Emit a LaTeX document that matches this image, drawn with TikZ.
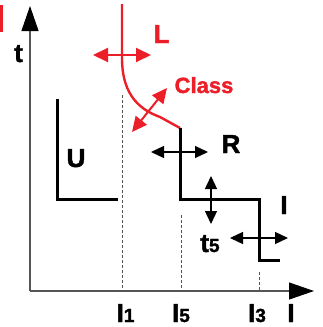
\documentclass[tikz,border=0pt]{standalone}
\usepackage{fontspec}
\setmainfont{Liberation Sans}[BoldFeatures={FakeBold=1.6}]
\usetikzlibrary{arrows.meta,positioning}
\definecolor{curvered}{RGB}{236,30,40}
\definecolor{axisgray}{RGB}{85,85,85}
\newcommand\smalldigit[1]{{\fontsize{19}{20}\selectfont #1}}

\begin{document}
\begin{tikzpicture}[x=1pt,y=-1pt,
    lbl/.style={font=\bfseries\fontsize{26}{30}\selectfont,inner sep=0pt,anchor=base},
    axis/.style={draw=axisgray,line width=1.1pt,-{Triangle[length=25pt,width=17pt,color=black]}},
    guide/.style={draw=axisgray,line width=0.8pt,dash pattern=on 3pt off 2pt},
    trip/.style={draw=black,line width=3pt,line join=miter},
    shiftarrow/.style={draw=black,line width=1.3pt,{Triangle[length=13pt,width=12pt]}-{Triangle[length=13pt,width=12pt]}},
    redshift/.style={draw=curvered,line width=2pt,{Triangle[length=15pt,width=14pt]}-{Triangle[length=15pt,width=14pt]}}]
  \useasboundingbox (0,0) rectangle (323,327);
  \fill[curvered] (0,5) rectangle (3,32);
  % axes
  \coordinate (O) at (30,291);
  \coordinate (tend) at (30,6);
  \coordinate (Iend) at (314,291);
  \draw[axis] (O) -- (tend);
  \draw[axis] (O) -- (Iend);
  % guide lines
  \coordinate (g1) at (122,95);   \coordinate (g1b) at (122,291);
  \coordinate (g5) at (181,215);  \coordinate (g5b) at (181,291);
  \coordinate (g3) at (259,272);  \coordinate (g3b) at (259,291);
  \draw[guide] (g1) -- (g1b);
  \draw[guide] (g5) -- (g5b);
  \draw[guide] (g3) -- (g3b);
  % U release
  \coordinate (u1) at (57,99);
  \coordinate (u2) at (57,199);
  \coordinate (u3) at (118,199);
  \draw[trip] (u1) -- (u2) -- (u3);
  % L curve
  \coordinate (c0) at (122,4);
  \coordinate (c1) at (122,58);
  \coordinate (c2) at (160,117);
  \coordinate (r0) at (180,128);
  \draw[curvered,line width=2.4pt] (c0) -- (c1) .. controls (122,90) and (135,108) .. (c2) -- (r0);
  % R and I steps
  \coordinate (r1) at (180,199);
  \coordinate (r2) at (259,199);
  \coordinate (r3) at (259,260);
  \coordinate (r4) at (280,260);
  \draw[trip] (r0) -- (r1) -- (r2) -- (r3) -- (r4);
  % shift arrows
  \begin{scope}
    \coordinate (La) at (93,55);   \coordinate (Lb) at (151,55);
    \coordinate (Ka) at (132,132); \coordinate (Kb) at (167,88);
    \coordinate (Ra) at (151,152); \coordinate (Rb) at (208,152);
    \coordinate (Ta) at (211,176); \coordinate (Tb) at (211,224);
    \coordinate (Ia) at (230,238); \coordinate (Ib) at (288,238);
    \draw[redshift] (La) -- (Lb);
    \draw[redshift] (Ka) -- (Kb);
    \draw[shiftarrow] (Ra) -- (Rb);
    \draw[shiftarrow] (Ta) -- (Tb);
    \draw[shiftarrow] (Ia) -- (Ib);
  \end{scope}
  % labels
  \begin{scope}[every node/.style={lbl}]
    \node (t) at (18.5,62) {t};
    \node (U) at (76,167) {U};
    \node[curvered] (L) at (161.5,43) {L};
    \node[curvered,font=\bfseries\fontsize{22}{26}\selectfont] (class) at (204,93) {Class};
    \node (R) at (231,153) {R};
    \node (Ilbl) at (284,214) {I};
    \node (t5) at (210,252) {t\smalldigit{5}};
    \node (I1) at (125.5,322) {I\smalldigit{1}};
    \node (I5) at (181,322) {I\smalldigit{5}};
    \node (I3) at (257,322) {I\smalldigit{3}};
    \node (I) at (291,322) {I};
  \end{scope}
\end{tikzpicture}
\end{document}
